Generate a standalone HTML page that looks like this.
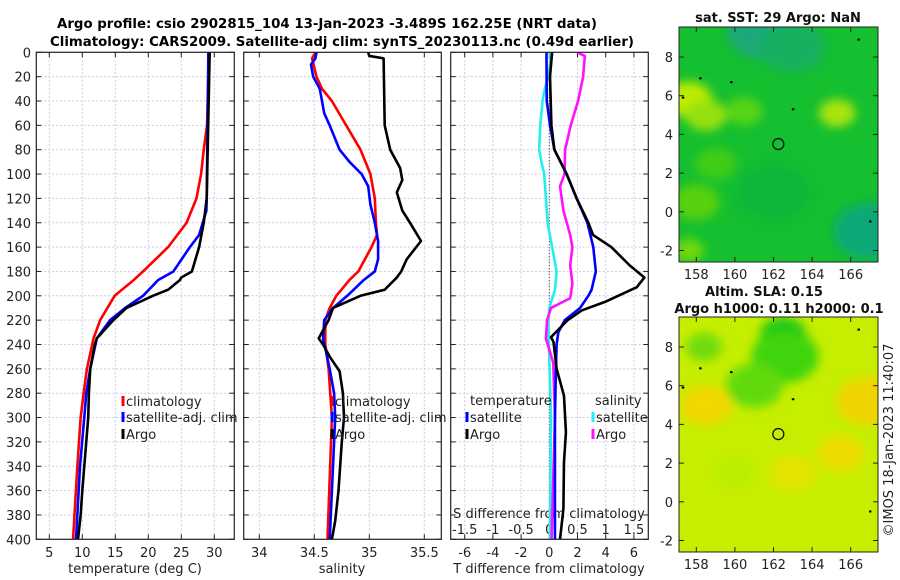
<!DOCTYPE html>
<html><head><meta charset="utf-8"><style>
html,body{margin:0;padding:0;background:#fff;}
svg{display:block;font-family:"DejaVu Sans","Liberation Sans",sans-serif;}
</style></head><body>
<svg id="fig" width="900" height="580" viewBox="0 0 900 580" xmlns="http://www.w3.org/2000/svg">
<defs>
<clipPath id="c1"><rect x="36.3" y="52.3" width="198" height="487"/></clipPath>
<clipPath id="c2"><rect x="243.7" y="52.3" width="197.6" height="487"/></clipPath>
<clipPath id="c3"><rect x="450.7" y="52.3" width="197.6" height="487"/></clipPath>
<clipPath id="m1"><rect x="679" y="27" width="199" height="235"/></clipPath>
<clipPath id="m2"><rect x="679" y="317" width="199" height="235"/></clipPath>
<filter id="blur" x="-50%" y="-50%" width="200%" height="200%"><feGaussianBlur stdDeviation="5"/></filter>
</defs>
<g font-weight="bold" font-size="13" text-anchor="middle">
<text x="327" y="28" textLength="540" lengthAdjust="spacingAndGlyphs">Argo profile: csio 2902815_104 13-Jan-2023 -3.489S 162.25E (NRT data)</text>
<text x="342" y="46" textLength="584" lengthAdjust="spacingAndGlyphs">Climatology: CARS2009. Satellite-adj clim: synTS_20230113.nc (0.49d earlier)</text>
</g>
<g id="layer"></g>
</svg>
<script>
// ---------- data ----------
const depthTicks = [0,20,40,60,80,100,120,140,160,180,200,220,240,260,280,300,320,340,360,380,400];
const tempTicks = [5,10,15,20,25,30];
const salTicks = [34,34.5,35,35.5];
const tDiffTicks = [-6,-4,-2,0,2,4,6];
const sDiffTicks = [-1.5,-1,-0.5,0,0.5,1,1.5];

const tempClimDepth = [0,60,80,100,120,140,160,180,187,200,220,235,260,280,300,340,400];
const tempClim = [29.2,28.9,28.4,28.0,27.3,25.8,23.0,19.2,17.8,14.9,12.7,11.7,10.7,10.2,9.75,9.25,8.6];
const tempSatDepth = [0,120,130,150,160,180,187,200,210,220,235,260,280,300,340,400];
const tempSat = [29.1,28.85,28.8,27.7,26.3,23.8,21.5,19.2,16.5,14.2,12.2,11.2,10.6,10.3,9.65,9.05];
const tempArgoDepth = [0,120,140,160,180,185,187,195,200,210,220,235,240,260,280,300,320,340,360,380,400];
const tempArgo = [29.3,28.85,28.4,27.7,26.6,25.0,24.8,23.0,20.7,16.7,14.7,12.2,11.9,11.2,11.0,10.9,10.6,10.3,10.0,9.75,9.35];

const salClimDepth = [0,5,20,30,40,60,80,100,120,140,150,160,180,187,200,210,220,240,260,300,400];
const salClim = [34.51,34.48,34.52,34.57,34.66,34.79,34.92,35.01,35.05,35.06,35.07,35.02,34.9,34.82,34.70,34.64,34.6,34.6,34.63,34.66,34.62];
const salSatDepth = [0,5,10,20,30,50,60,80,90,100,110,125,140,155,170,180,187,200,210,220,235,260,280,300,400];
const salSat = [34.52,34.51,34.47,34.49,34.55,34.59,34.64,34.73,34.82,34.93,34.99,35.01,35.05,35.08,35.08,35.05,34.95,34.8,34.67,34.59,34.58,34.64,34.68,34.69,34.64];
const salArgoDepth = [0,3,5,60,80,95,105,115,130,140,155,170,180,185,195,200,210,220,235,240,250,262,280,300,320,360,385,400];
const salArgo = [34.99,35.0,35.13,35.14,35.19,35.28,35.3,35.25,35.3,35.37,35.47,35.34,35.29,35.25,35.14,34.92,34.67,34.63,34.54,34.58,34.64,34.73,34.76,34.77,34.75,34.72,34.69,34.66];

const tDiffSatDepth = [0,40,60,80,100,120,140,160,180,195,200,210,220,230,240,260,300,400];
const tDiffSat = [-0.2,-0.18,0.05,0.36,1.23,1.94,2.7,3.12,3.3,3.0,2.77,2.18,1.1,0.64,0.52,0.47,0.4,0.4];
const tDiffArgoDepth = [0,20,60,80,100,120,140,150,160,175,185,193,205,212,220,234,238,260,282,312,337,375,400];
const tDiffArgo = [0.2,0.05,0.15,0.36,1.23,1.94,2.77,3.1,4.4,5.7,6.74,6.2,3.95,2.3,1.3,0.12,0.3,0.52,1.04,1.18,1.04,1.0,0.76];
const sDiffSatDepth = [0,5,20,30,40,60,80,90,100,120,140,160,180,195,210,220,300,400];
const sDiffSat = [0,0.03,-0.02,-0.08,-0.12,-0.16,-0.18,-0.14,-0.09,-0.06,-0.03,0.05,0.13,0.1,0.0,-0.02,0.03,0.01];
const sDiffArgoDepth = [0,3,20,40,60,80,100,110,130,150,160,175,190,202,210,220,235,255,300,400];
const sDiffArgo = [0.49,0.63,0.6,0.51,0.38,0.28,0.27,0.19,0.25,0.37,0.41,0.37,0.41,0.37,0.03,-0.04,-0.06,0.07,0.1,0.04];

const lonTicks = [158,160,162,164,166];
const latTicks = [-2,0,2,4,6,8];
const argoLon = 162.25, argoLat = 3.5;

// ---------- axes ----------
const TOP=52.3, BOT=539.3;
const yD = d => TOP + d*(BOT-TOP)/400;
const xT = t => 49.3 + (t-5)*6.6;
const xS = s => 369.3 + (s-35)*110;
const xDT = v => 549.3 + v*14.1;
const xDS = v => 549.3 + v*56.4;
const P = [[36.3,234.3],[243.7,441.3],[450.7,648.3]];
const mapX = l => 696.3 + (l-158)*19.3;
const map1Y = l => 57 + (8-l)*19.35;
const map2Y = l => 347 + (8-l)*19.35;

const NS='http://www.w3.org/2000/svg';
const layer=document.getElementById('layer');
function mk(tag, attrs, parent, txt){
  const e=document.createElementNS(NS,tag);
  for(const k in attrs) e.setAttribute(k,attrs[k]);
  if(txt!==undefined) e.textContent=txt;
  (parent||layer).appendChild(e); return e;
}

const panelNames=['temperature-panel','salinity-panel','difference-panel'];
const xTicksPerPanel=[tempTicks.map(xT), salTicks.map(xS), tDiffTicks.map(xDT)];
P.forEach((p,i)=>{
  const g=mk('g',{});
  
  
  xTicksPerPanel[i].forEach(x=>{
    const l=mk('line',{x1:x,x2:x,y1:TOP,y2:BOT,stroke:'#c9c9ea','stroke-width':1,'stroke-dasharray':'2,2'},g);
    
    
    mk('line',{x1:x,x2:x,y1:BOT,y2:BOT-5,stroke:'#222'},g);
    mk('line',{x1:x,x2:x,y1:TOP,y2:TOP+5,stroke:'#222'},g);
  });
  depthTicks.forEach(d=>{
    const y=yD(d);
    const l=mk('line',{x1:p[0],x2:p[1],y1:y,y2:y,stroke:'#c9c9ea','stroke-width':1,'stroke-dasharray':'2,2'},g);
    
    
    mk('line',{x1:p[0],x2:p[0]+5,y1:y,y2:y,stroke:'#222'},g);
    mk('line',{x1:p[1],x2:p[1]-5,y1:y,y2:y,stroke:'#222'},g);
  });
});
depthTicks.forEach(d=>{
  const t=mk('text',{x:31,y:yD(d)+5,'font-size':13,'text-anchor':'end',fill:'#222'},layer,String(d));
  
  
});
function xlabels(ticks,fx,y){
  ticks.forEach(v=>{
    const t=mk('text',{x:fx(v),y:y,'font-size':13,'text-anchor':'middle',fill:'#222'},layer,String(v));
    
    
  });
}
xlabels(tempTicks,xT,557);
xlabels(salTicks,xS,557);
xlabels(tDiffTicks,xDT,557);
xlabels(sDiffTicks,xDS,534);
let at=mk('text',{x:135,y:573,'font-size':13,'text-anchor':'middle',fill:'#222'},layer,'temperature (deg C)');


at=mk('text',{x:342,y:573,'font-size':13,'text-anchor':'middle',fill:'#222'},layer,'salinity');


at=mk('text',{x:549,y:573,'font-size':13,'text-anchor':'middle',fill:'#222'},layer,'T difference from climatology');


at=mk('text',{x:549,y:518,'font-size':13,'text-anchor':'middle',fill:'#222'},layer,'S difference from climatology');



let zl=mk('line',{x1:xDT(0),x2:xDT(0),y1:TOP,y2:BOT,stroke:'#333','stroke-width':1,'stroke-dasharray':'1,2'});



function series(depths, vals, fx, color, clip, name){
  const pts=depths.map((d,i)=>fx(vals[i]).toFixed(2)+','+yD(d).toFixed(2)).join(' ');
  const e=mk('polyline',{points:pts,fill:'none',stroke:color,'stroke-width':2.6,'stroke-linejoin':'round','clip-path':'url(#'+clip+')'});
  
  
}
series(tempClimDepth,tempClim,xT,'#ff0000','c1','temperature-climatology-line');
series(tempSatDepth,tempSat,xT,'#0000ff','c1','temperature-satellite-line');
series(tempArgoDepth,tempArgo,xT,'#000000','c1','temperature-argo-line');
series(salClimDepth,salClim,xS,'#ff0000','c2','salinity-climatology-line');
series(salSatDepth,salSat,xS,'#0000ff','c2','salinity-satellite-line');
series(salArgoDepth,salArgo,xS,'#000000','c2','salinity-argo-line');
series(sDiffSatDepth,sDiffSat,xDS,'#22eeee','c3','s-diff-satellite-line');
series(sDiffArgoDepth,sDiffArgo,xDS,'#ff11ff','c3','s-diff-argo-line');
series(tDiffSatDepth,tDiffSat,xDT,'#0000ff','c3','t-diff-satellite-line');
series(tDiffArgoDepth,tDiffArgo,xDT,'#000000','c3','t-diff-argo-line');

P.forEach(p=>{ mk('rect',{x:p[0],y:TOP,width:p[1]-p[0],height:BOT-TOP,fill:'none',stroke:'#222','stroke-width':1.2}); });

function legend(x,y,color,label){
  const g=mk('g',{});
  
  
  mk('rect',{x:x-1.5,y:y-10,width:3,height:10,fill:color},g);
  mk('text',{x:x+3,y:y,'font-size':13,fill:'#222'},g,label);
}
legend(123,406,'#ff0000','climatology');
legend(123,422,'#0000ff','satellite-adj. clim');
legend(123,439,'#000000','Argo');
legend(332,406,'#ff0000','climatology');
legend(332,422,'#0000ff','satellite-adj. clim');
legend(332,439,'#000000','Argo');
let lt=mk('text',{x:470,y:405,'font-size':13,fill:'#222'},layer,'temperature');


lt=mk('text',{x:595,y:405,'font-size':13,fill:'#222'},layer,'salinity');


legend(467,422,'#0000ff','satellite');
legend(467,439,'#000000','Argo');
legend(593,422,'#22eeee','satellite');
legend(593,439,'#ff11ff','Argo');

// ---------- maps ----------
const sstBlobLon = [161.5,163,157.6,158.5,160.5,165.3,158,167,162,159,157.6];
const sstBlobLat = [9.3,8.5,5.8,5.0,5.2,5.1,0.5,-1,1,2.5,-2];
const sstBlobColor = ['#1aa878','#18b060','#c0ec00','#98e010','#58d418','#a8e410','#58d010','#10a878','#10b838','#40cc18','#70d810'];
const sstBlobR = [28,25,18,16,14,14,18,28,30,16,12];
const slaBlobLon = [162.5,162.6,161,158.4,158.5,166.9,165.5,163,160];
const slaBlobLat = [8.6,7.5,6,8,5,5.2,2.5,1.5,1.5];
const slaBlobColor = ['#12c818','#40d410','#60da08','#70dc08','#f0d800','#f0d400','#ecdc00','#e4e400','#b8ee00'];
const slaBlobR = [18,26,22,14,20,24,18,18,14];

function drawMap(clip, fy, base, lons, lats, cols, rs, name, top){
  const g=mk('g',{'clip-path':'url(#'+clip+')'});
  
  
  mk('rect',{x:679,y:top,width:199,height:235,fill:base},g);
  const b=mk('g',{filter:'url(#blur)'},g);
  lons.forEach((l,i)=>{
    const c=mk('ellipse',{cx:mapX(l),cy:fy(lats[i]),rx:rs[i]*1.3,ry:rs[i],fill:cols[i]},b);
    
    
  });
  [[158.2,6.9],[159.8,6.7],[163,5.3],[157.3,5.9],[167,-0.5],[166.4,8.9]].forEach(p=>{
    mk('rect',{x:mapX(p[0])-1,y:fy(p[1])-1,width:2.5,height:2,fill:'#000'},g);
  });
  const c=mk('circle',{cx:mapX(argoLon),cy:fy(argoLat),r:5.5,fill:'none',stroke:'#111','stroke-width':1.3});
  
  
  mk('rect',{x:679,y:top,width:199,height:235,fill:'none',stroke:'#222','stroke-width':1});
  lonTicks.forEach(l=>{
    const x=mapX(l);
    mk('line',{x1:x,x2:x,y1:top+235,y2:top+230,stroke:'#222'});
    mk('line',{x1:x,x2:x,y1:top,y2:top+5,stroke:'#222'});
    const t=mk('text',{x:x,y:top+252,'font-size':13,'text-anchor':'middle',fill:'#222'},layer,String(l));
    
    
  });
  latTicks.forEach(l=>{
    const y=fy(l);
    mk('line',{x1:679,x2:684,y1:y,y2:y,stroke:'#222'});
    mk('line',{x1:878,x2:873,y1:y,y2:y,stroke:'#222'});
    const t=mk('text',{x:673,y:y+5,'font-size':13,'text-anchor':'end',fill:'#222'},layer,String(l));
    
    
  });
}
drawMap('m1',map1Y,'#14bf30',sstBlobLon,sstBlobLat,sstBlobColor,sstBlobR,'sst-map',27);
drawMap('m2',map2Y,'#c6ee00',slaBlobLon,slaBlobLat,slaBlobColor,slaBlobR,'sla-map',317);

let mt=mk('text',{x:778,y:22,'font-size':13,'font-weight':'bold','text-anchor':'middle',fill:'#111'},layer,'sat. SST: 29 Argo: NaN');


mt=mk('text',{x:764,y:296,'font-size':13,'font-weight':'bold','text-anchor':'middle',fill:'#111'},layer,'Altim. SLA: 0.15');


mt=mk('text',{x:779,y:313,'font-size':13,'font-weight':'bold','text-anchor':'middle',fill:'#111'},layer,'Argo h1000: 0.11 h2000: 0.1');


mt=mk('text',{x:0,y:0,'font-size':13,'text-anchor':'middle',fill:'#222',transform:'translate(893,440) rotate(-90)'},layer,'©IMOS 18-Jan-2023 11:40:07');


</script>
</body></html>
